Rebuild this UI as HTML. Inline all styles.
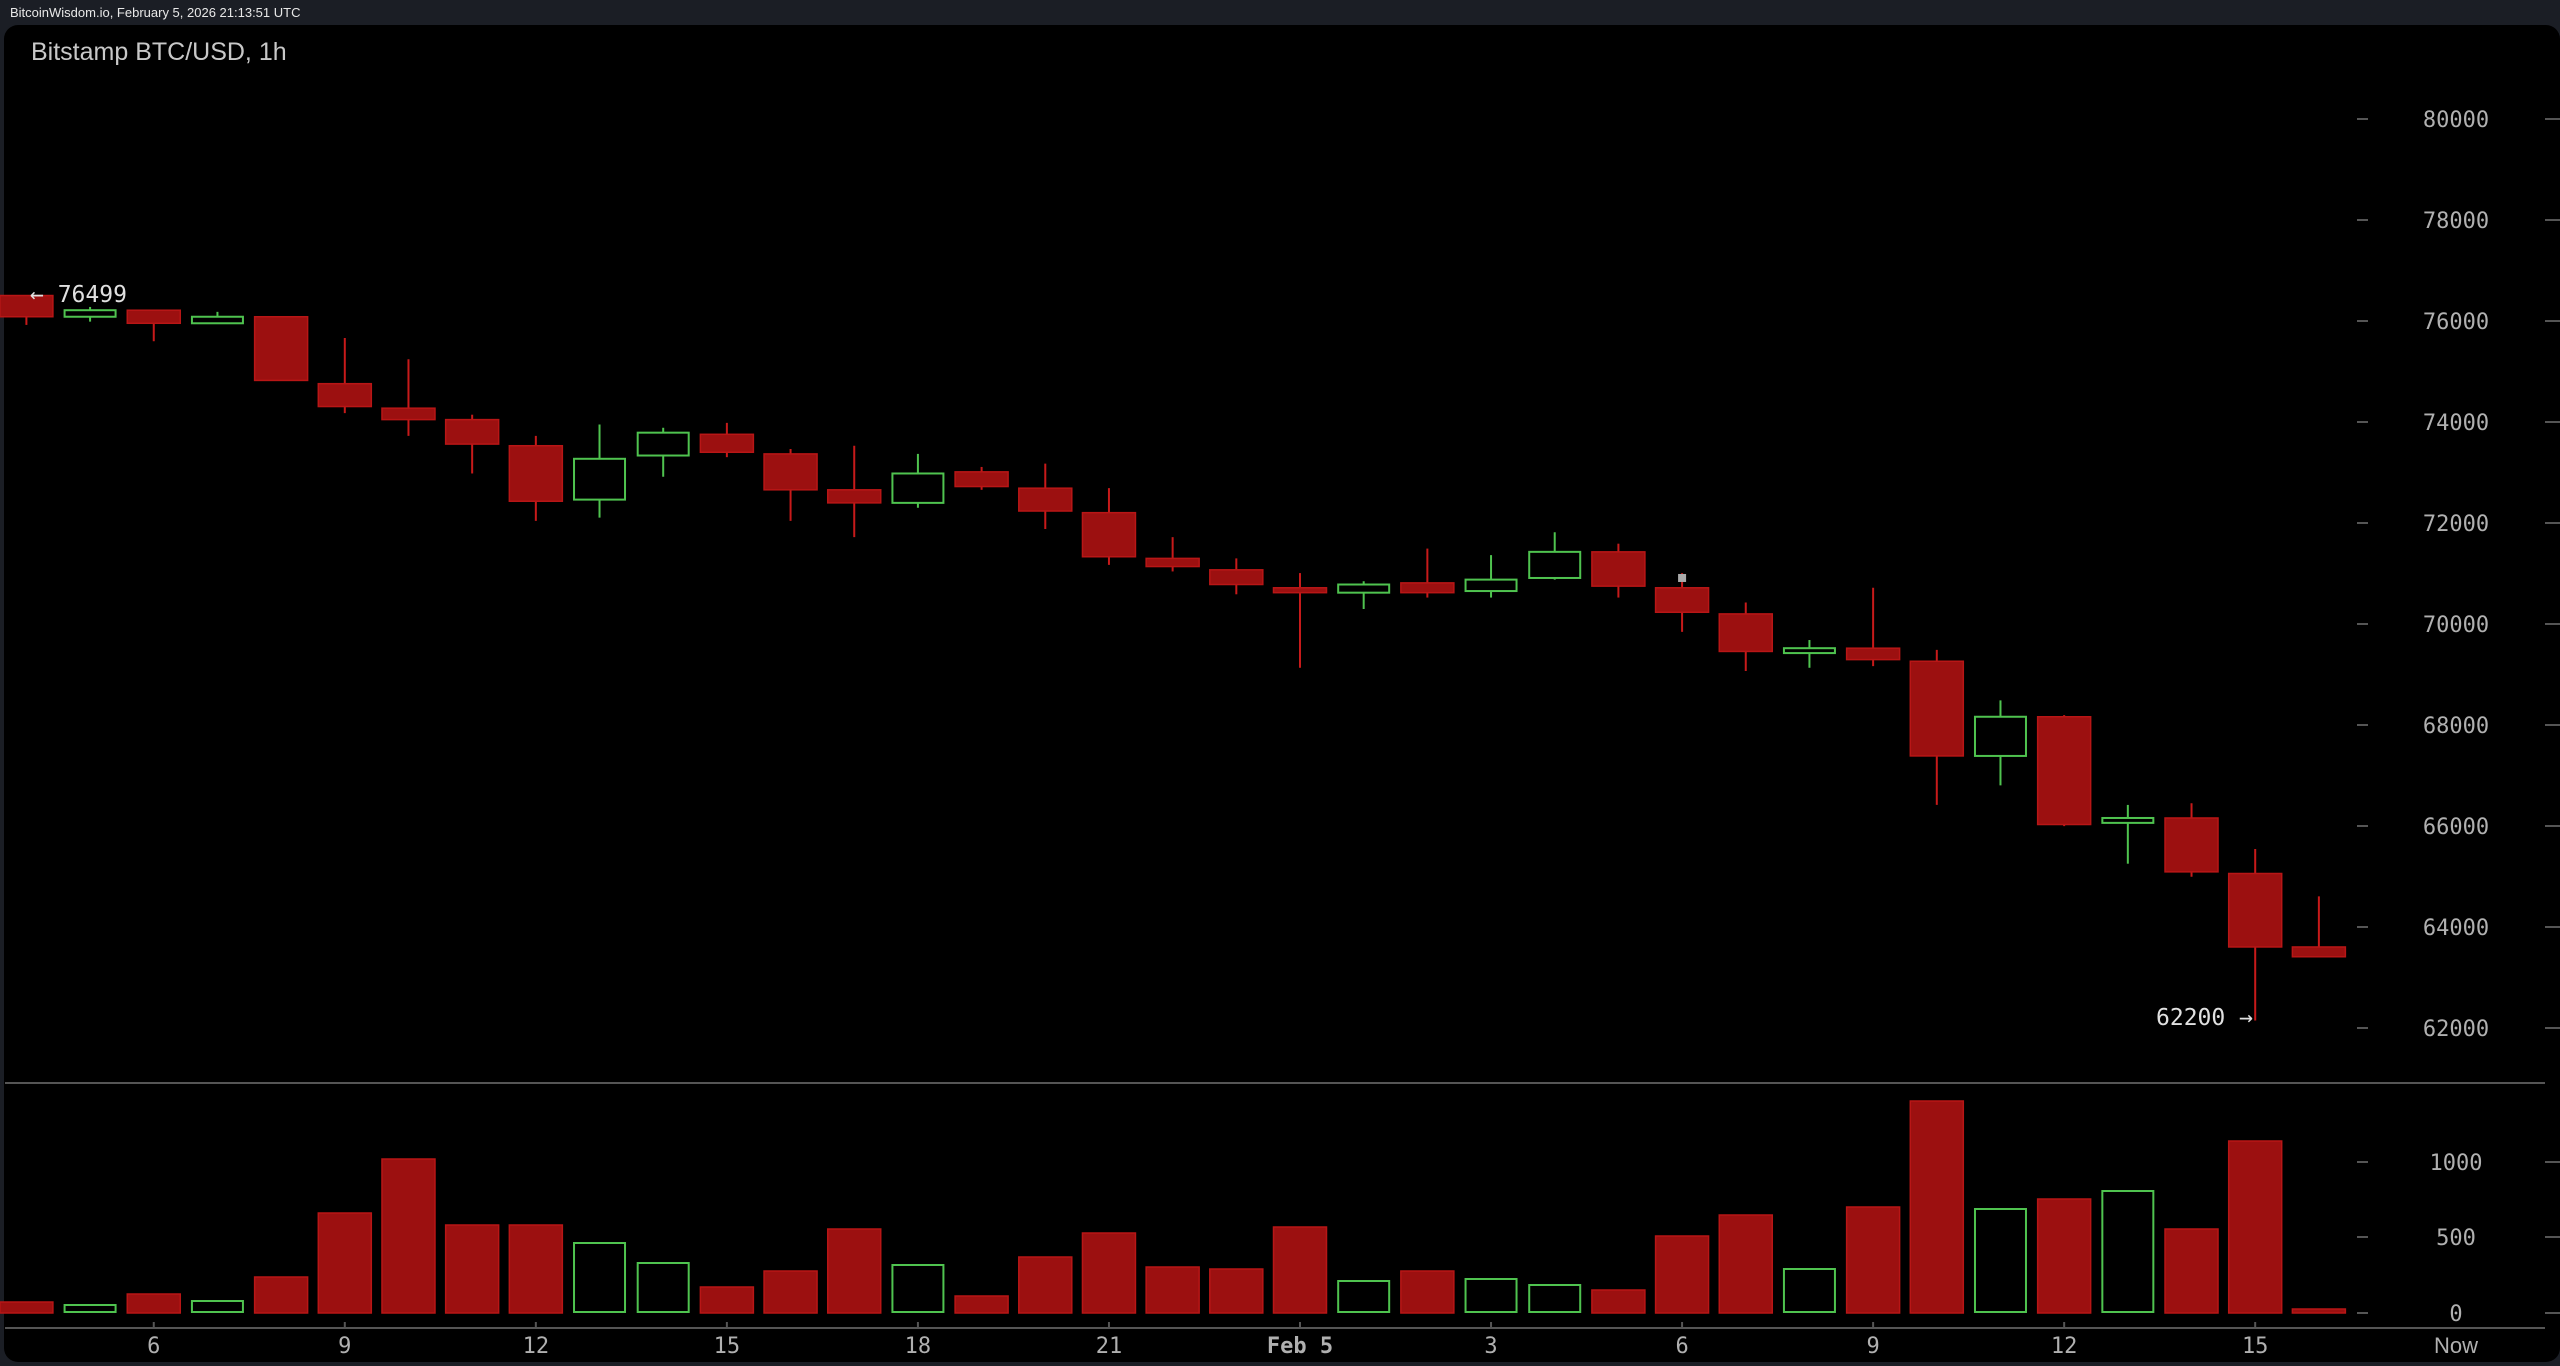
<!DOCTYPE html>
<html><head><meta charset="utf-8"><style>
html,body{margin:0;padding:0;background:#1b1e25;width:2560px;height:1366px;overflow:hidden}
svg{display:block}
text{font-family:"DejaVu Sans Mono","Liberation Mono",monospace}
</style></head><body>
<svg id="s" width="2560" height="1366" xmlns="http://www.w3.org/2000/svg">
<rect x="0" y="0" width="2560" height="1366" fill="#1b1e25"/>
<rect x="4" y="25" width="2556" height="1337" rx="14" fill="#000"/>
<text x="10" y="17" font-family="Liberation Sans,sans-serif" style="font-family:'Liberation Sans',sans-serif" font-size="13" fill="#e8e8e8">BitcoinWisdom.io, February 5, 2026 21:13:51 UTC</text>
<text x="31" y="60" style="font-family:'Liberation Sans',sans-serif" font-size="25" fill="#c8c8c8">Bitstamp BTC/USD, 1h</text>
<line x1="5" y1="1083" x2="2545" y2="1083" stroke="#555" stroke-width="2"/>
<line x1="5" y1="1328" x2="2545" y2="1328" stroke="#555" stroke-width="2"/>
<g id="g"></g>
</svg>
<script>
var g=document.getElementById('g'),h='';
var S=1.6327;
function px(hr){return 1300+63.68*hr;}
// price axis
for(var p=62000;p<=80000;p+=2000){var y=927-(p-64000)*0.0505;
h+='<line x1="2357" y1="'+y+'" x2="2368" y2="'+y+'" stroke="#555" stroke-width="2"/>';
h+='<line x1="2545" y1="'+y+'" x2="2560" y2="'+y+'" stroke="#555" stroke-width="2"/>';
h+='<text x="2456" y="'+(y+8)+'" text-anchor="middle" font-size="22" fill="#b0b0b0">'+p+'</text>';}
[[0,1313],[500,1237],[1000,1162]].forEach(function(v){var y=v[1];
h+='<line x1="2357" y1="'+y+'" x2="2368" y2="'+y+'" stroke="#555" stroke-width="2"/>';
h+='<line x1="2545" y1="'+y+'" x2="2560" y2="'+y+'" stroke="#555" stroke-width="2"/>';
h+='<text x="2456" y="'+(y+8)+'" text-anchor="middle" font-size="22" fill="#b0b0b0">'+v[0]+'</text>';});
// x labels
[[-18,'6'],[-15,'9'],[-12,'12'],[-9,'15'],[-6,'18'],[-3,'21'],[0,'Feb 5'],[3,'3'],[6,'6'],[9,'9'],[12,'12'],[15,'15']].forEach(function(l){var x=px(l[0]);
h+='<line x1="'+x+'" y1="1322" x2="'+x+'" y2="1328" stroke="#555" stroke-width="2"/>';
h+='<text x="'+x+'" y="1353" text-anchor="middle" font-size="22" fill="#b0b0b0"'+(l[1]=='Feb 5'?' font-weight="bold"':'')+'>'+l[1]+'</text>';});
h+='<text x="2456" y="1353" text-anchor="middle" font-size="22" fill="#b0b0b0" style="font-family:\'Liberation Sans\',sans-serif">Now</text>';
// candles: [hour, color(r/g), bodyTop, bodyBot, wickTop, wickBot] display coords
var C=[[-20,'r',181,194,181,199],[-19,'g',190,194,188,197],[-18,'r',190,198,190,209],[-17,'g',194,198,191,198],
[-16,'r',194,233,194,233],[-15,'r',235,249,207,253],[-14,'r',250,257,220,267],[-13,'r',257,272,254,290],
[-12,'r',273,307,267,319],[-11,'g',281,306,260,317],[-10,'g',265,279,262,292],[-9,'r',266,277,259,280],
[-8,'r',278,300,275,319],[-7,'r',300,308,273,329],[-6,'g',290,308,278,311],[-5,'r',289,298,286,300],
[-4,'r',299,313,284,324],[-3,'r',314,341,299,346],[-2,'r',342,347,329,350],[-1,'r',349,358,342,364],
[0,'r',360,363,351,409],[1,'g',358,363,356,373],[2,'r',357,363,336,366],[3,'g',355,362,340,366],
[4,'g',338,354,326,355],[5,'r',338,359,333,366],[6,'r',360,375,351,387],[7,'r',376,399,369,411],
[8,'g',397,400,392,409],[9,'r',397,404,360,408],[10,'r',405,463,398,493],[11,'g',439,463,429,481],
[12,'r',439,505,438,506],[13,'g',501,504,493,529],[14,'r',501,534,492,537],[15,'r',535,580,520,625],
[16,'r',580,586,549,586]];
var V={'-20':1302,'-19':1305,'-18':1294,'-17':1301,'-16':1277,'-15':1213,'-14':1159,'-13':1225,'-12':1225,'-11':1243,'-10':1263,'-9':1287,'-8':1271,'-7':1229,'-6':1265,'-5':1296,'-4':1257,'-3':1233,'-2':1267,'-1':1269,'0':1227,'1':1281,'2':1271,'3':1279,'4':1285,'5':1290,'6':1236,'7':1215,'8':1269,'9':1207,'10':1101,'11':1209,'12':1199,'13':1191,'14':1229,'15':1141,'16':1309};
C.forEach(function(c){var x=px(c[0]),w=53,bt=c[2]*S,bb=c[3]*S,wt=c[4]*S,wb=c[5]*S;
if(bb-bt<4)bb=bt+4;
var red=c[1]=='r';
h+='<line x1="'+x+'" y1="'+wt+'" x2="'+x+'" y2="'+wb+'" stroke="'+(red?'#c71a1a':'#4fc34f')+'" stroke-width="2"/>';
if(red)h+='<rect x="'+(x-w/2)+'" y="'+bt+'" width="'+w+'" height="'+(bb-bt)+'" fill="#9c1010" stroke="#b81616" stroke-width="1.5"/>';
else h+='<rect x="'+(x-w/2+1)+'" y="'+bt+'" width="'+(w-2)+'" height="'+(bb-bt)+'" fill="#000" stroke="#4fc34f" stroke-width="2"/>';
var vt=V[c[0]];
if(red)h+='<rect x="'+(x-w/2)+'" y="'+vt+'" width="'+w+'" height="'+(1313-vt)+'" fill="#9c1010" stroke="#b81616" stroke-width="1.5"/>';
else h+='<rect x="'+(x-w/2+1)+'" y="'+vt+'" width="'+(w-2)+'" height="'+(1312-vt)+'" fill="#000" stroke="#4fc34f" stroke-width="2"/>';
});
h+='<rect x="'+(px(6)-4)+'" y="'+(354*S-4)+'" width="8" height="8" fill="#aaa"/>';
h+='<text x="30" y="302" font-size="23" fill="#e0e0e0">← 76499</text>';
h+='<text x="2156" y="1025" font-size="23" fill="#e0e0e0">62200 →</text>';
g.innerHTML=h;
</script>
</body></html>
